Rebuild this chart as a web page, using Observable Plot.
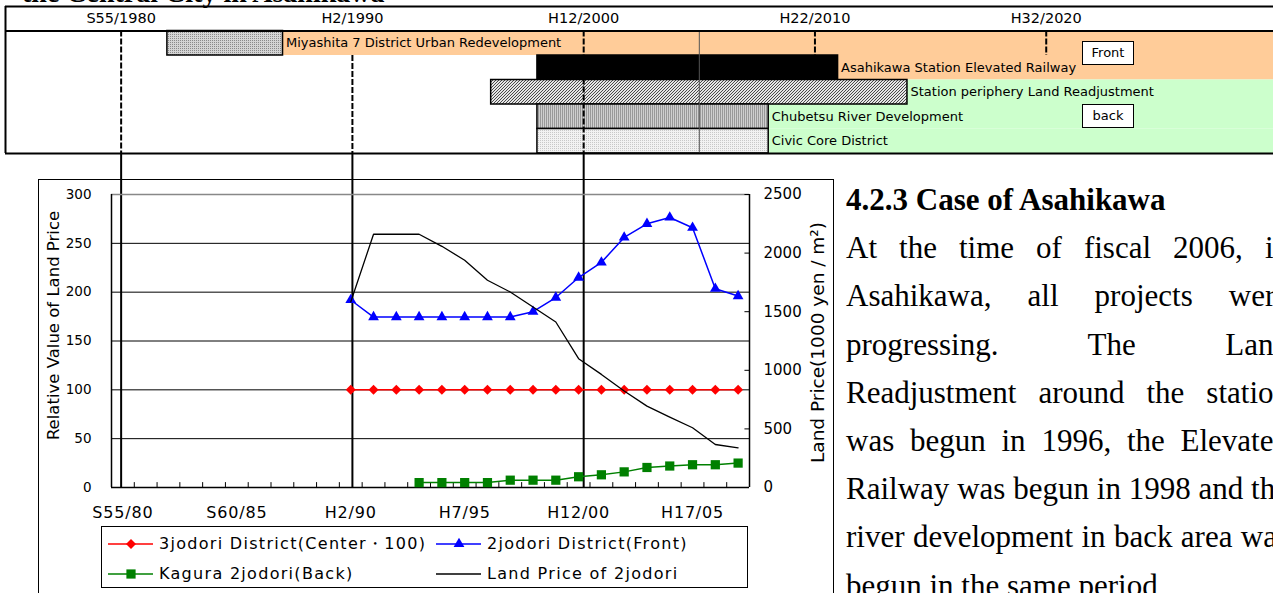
<!DOCTYPE html>
<html><head><meta charset="utf-8">
<script src="https://cdn.jsdelivr.net/npm/d3@7"></script>
<script src="https://cdn.jsdelivr.net/npm/@observablehq/plot@0.6"></script>
<style>
html,body{margin:0;padding:0;background:#fff;overflow:hidden;width:1273px;height:593px;}
#page{position:relative;width:1273px;height:593px;overflow:hidden;background:#fff;}
.abs{position:absolute;}
#title{left:22px;top:-21.5px;font:bold 28px "Liberation Serif",serif;line-height:28px;white-space:nowrap;z-index:5;}
#timeline{left:0;top:0;z-index:0;}
#chartbox{left:38px;top:179px;width:796px;height:440px;border:1px solid #000;box-sizing:border-box;z-index:1;}
#chart{left:38px;top:179px;z-index:2;}
#legend{left:101px;top:526px;width:647px;height:62px;border:1px solid #000;box-sizing:border-box;background:#fff;z-index:3;font:16px "DejaVu Sans",sans-serif;letter-spacing:1.3px;}
.litem{position:absolute;height:20px;white-space:nowrap;}
.litem svg{position:absolute;left:0;top:2px;}
.litem span{position:absolute;left:51px;top:0;line-height:20px;}
.tag{border:1px solid #000;background:#fff;font:13px "DejaVu Sans",sans-serif;text-align:center;box-sizing:border-box;z-index:4;}
#body{left:846px;top:176px;width:443px;font:31px "Liberation Serif",serif;line-height:48.2px;z-index:5;}
#body div{white-space:nowrap;}
#body .j{text-align:justify;text-align-last:justify;}
#body .h{font-weight:bold;}
</style></head>
<body><div id="page">
<svg width="0" height="0" style="position:absolute">
<defs>
<pattern id="pDots" width="2" height="2" patternUnits="userSpaceOnUse">
 <rect width="2" height="2" fill="#d4d4d4"/><rect width="1" height="1" fill="#8a8a8a"/>
</pattern>
<pattern id="pHatch" width="3" height="3" patternUnits="userSpaceOnUse">
 <rect width="3" height="3" fill="#e6e6e6"/><path d="M-1,1 L1,-1 M0,3 L3,0 M2,4 L4,2" stroke="#4a4a4a" stroke-width="1"/>
</pattern>
<pattern id="pVert" width="2" height="2" patternUnits="userSpaceOnUse">
 <rect width="2" height="2" fill="#cfcfcf"/><rect width="1" height="2" fill="#999"/>
</pattern>
<pattern id="pLight" width="2" height="2" patternUnits="userSpaceOnUse">
 <rect width="2" height="2" fill="#f2f2f2"/><rect width="1" height="1" fill="#c8c8c8"/>
</pattern>
</defs></svg>
<div id="title" class="abs">the Central City in Asahikawa</div>
<div id="timeline" class="abs"></div>
<div id="chartbox" class="abs"></div>
<div id="chart" class="abs"></div>
<div id="legend" class="abs"></div>
<div class="abs tag" style="left:1082px;top:41px;width:52px;height:24px;line-height:22px;">Front</div>
<div class="abs tag" style="left:1082px;top:104px;width:52px;height:24px;line-height:22px;">back</div>
<div id="body" class="abs"></div>
</div>
<script>
// ---------------- Data ----------------
// Timeline of projects
const projects = ["Miyashita 7 District Urban Redevelopment", "Asahikawa Station Elevated Railway", "Station periphery Land Readjustment", "Chubetsu River Development", "Civic Core District"];
const projStart = [1982, 1998, 1996, 1998, 1998];
const projEnd = [1987, 2011, 2014, 2008, 2008];
const projArea = ["front", "front", "back", "back", "back"];
const headerYears = [1980, 1990, 2000, 2010, 2020];
const headerLabels = ["S55/1980", "H2/1990", "H12/2000", "H22/2010", "H32/2020"];

// Chart categories
const chartYears = [1980,1981,1982,1983,1984,1985,1986,1987,1988,1989,1990,1991,1992,1993,1994,1995,1996,1997,1998,1999,2000,2001,2002,2003,2004,2005,2006,2007];
const xLabelYears = [1980, 1985, 1990, 1995, 2000, 2005];
const xLabelText = ["S55/80", "S60/85", "H2/90", "H7/95", "H12/00", "H17/05"];
const leftTicks = [0, 50, 100, 150, 200, 250, 300];
const rightTicks = [0, 500, 1000, 1500, 2000, 2500];

// Series
const seriesYears = [1990,1991,1992,1993,1994,1995,1996,1997,1998,1999,2000,2001,2002,2003,2004,2005,2006,2007];
const center3jodori = [100,100,100,100,100,100,100,100,100,100,100,100,100,100,100,100,100,100];
const front2jodori = [192,174.5,174.5,174.5,174.5,174.5,174.5,174.5,180,194.5,215,230.5,256,270,276.5,266,203.5,196];
const landPrice2jodori = [1583,2161,2161,2161,2058,1939,1768,1668,1540,1412,1099,965,823,694,600,510,367,339];
const kaguraYears = [1993,1994,1995,1996,1997,1998,1999,2000,2001,2002,2003,2004,2005,2006,2007];
const kaguraBack = [5,5,5,5,7.5,7.5,7.5,11,13,16,20.5,22,23.3,23.3,25];

const legendLabels = ["3jodori District(Center・100)", "2jodori District(Front)", "Kagura 2jodori(Back)", "Land Price of 2jodori"];

const bodyHeading = "4.2.3 Case of Asahikawa";
const bodyLines = ["At the time of fiscal 2006, in", "Asahikawa, all projects were", "progressing. The Land", "Readjustment around the station", "was begun in 1996, the Elevated", "Railway was begun in 1998 and the", "river development in back area was"];
const bodyLast = "begun in the same period";

// ---------------- Styles ----------------
const areaColor = {front: "#FFCC99", back: "#CCFFCC"};
const barFill = ["url(#pDots)", "#000000", "url(#pHatch)", "url(#pVert)", "url(#pLight)"];
const FONT = "DejaVu Sans";

// ---------------- Timeline ----------------
const rows = projects.map((name, i) => ({name, row: i, start: projStart[i], end: projEnd[i], area: projArea[i], fill: barFill[i]}));
const yRowDomain = [-1, 5], yRowRange = [6, 153];
const yT = d3.scaleLinear(yRowDomain, yRowRange);
const chartAxisPageY = 487; // where the connectors meet the chart's x axis
const lastYear = 2030;

const timeline = Plot.plot({
  width: 1273, height: 490,
  marginLeft: 5, marginRight: 0, marginTop: 0, marginBottom: 0,
  style: {background: "transparent", fontFamily: FONT, color: "#000"},
  x: {domain: [1975, lastYear], range: [5, 1277], axis: null},
  y: {domain: yRowDomain, range: yRowRange, axis: null},
  color: {type: "identity"},
  marks: [
    Plot.rect(rows, {x1: "end", x2: lastYear, y1: "row", y2: d => d.row + 1, fill: d => areaColor[d.area]}),
    Plot.rect(rows, {x1: "start", x2: "end", y1: "row", y2: d => d.row + 1, fill: "fill", stroke: "#000", strokeWidth: 1.5}),
    Plot.ruleX([2005], {y1: 0, y2: 5, stroke: "#555", strokeWidth: 1}),
    Plot.ruleX([1980, 2000], {y1: 0, y2: 5, stroke: "#000", strokeWidth: 2, strokeDasharray: "6,2"}),
    Plot.ruleX([1990], {y1: 1, y2: 5, stroke: "#000", strokeWidth: 2, strokeDasharray: "6,2"}),
    Plot.ruleX([2010, 2020], {y1: 0, y2: 1, stroke: "#000", strokeWidth: 2, strokeDasharray: "6,2"}),
    Plot.ruleX([1980, 1990, 2000], {y1: 5, y2: yT.invert(chartAxisPageY), stroke: "#000", strokeWidth: 2}),
    Plot.text(rows, {x: "end", y: d => d.row + 0.5, text: "name", textAnchor: "start", dx: 3, fontSize: 13, fill: "#000", ariaLabel: "project label"}),
    Plot.text(headerYears, {x: d => d, y: -0.5, text: (d, i) => headerLabels[i], fontSize: 14.5, fill: "#000", ariaLabel: "header label"}),
    Plot.ruleY([-1, 0, 5], {stroke: "#000", strokeWidth: 2}),
    Plot.ruleX([1975], {y1: -1, y2: 5, stroke: "#000", strokeWidth: 2})
  ]
});
document.getElementById("timeline").append(timeline);

// ---------------- Chart ----------------
const toLeft = v => v * 300 / 2500;
const dataA = seriesYears.map((year, i) => ({year, center: center3jodori[i], front: front2jodori[i], price: landPrice2jodori[i]}));
const dataK = kaguraYears.map((year, i) => ({year, back: kaguraBack[i]}));
const bounds = chartYears.slice(1).map(y => y - 0.5);
const xMin = chartYears[0] - 0.5, xMax = chartYears[chartYears.length - 1] + 0.5;

const chart = Plot.plot({
  width: 796, height: 414,
  marginLeft: 73, marginRight: 85, marginTop: 15, marginBottom: 106,
  style: {background: "transparent", fontFamily: FONT, color: "#000"},
  x: {domain: [xMin, xMax], axis: null},
  y: {domain: [0, 300], axis: null},
  marks: [
    Plot.ruleY(leftTicks.slice(1, -1), {stroke: "#000", strokeWidth: 1}),
    Plot.ruleY([300], {stroke: "#888", strokeWidth: 1.5}),
    Plot.ruleX(bounds, {y1: 0, y2: 5, stroke: "#000", strokeWidth: 1}),
    Plot.ruleY(rightTicks.map(toLeft), {x1: xMax - 0.2, x2: xMax, stroke: "#000", strokeWidth: 1}),
    Plot.ruleX([xMin, xMax], {stroke: "#000", strokeWidth: 1.5}),
    Plot.ruleY([0], {stroke: "#000", strokeWidth: 1.5}),
    Plot.axisY(leftTicks, {anchor: "left", tickSize: 0, tickPadding: 20, fontSize: 13.5, label: null}),
    Plot.axisY(rightTicks, {anchor: "right", y: toLeft, tickFormat: d => String(d), tickSize: 0, tickPadding: 14, fontSize: 15, label: null}),
    Plot.axisX(xLabelYears, {anchor: "bottom", tickFormat: d => xLabelText[xLabelYears.indexOf(d)], tickSize: 0, tickPadding: 19, fontSize: 16, label: null}),
    Plot.text(["Relative Value of Land Price"], {frameAnchor: "left", textAnchor: "middle", rotate: -90, dx: -58, dy: -15.5, fontSize: 16.5, fill: "#000"}),
    Plot.text(["Land Price(1000 yen / m²)"], {frameAnchor: "right", textAnchor: "middle", rotate: -90, dx: 69, dy: 1.5, fontSize: 18.5, fill: "#000"}),
    Plot.line(dataA, {x: "year", y: "center", stroke: "#FF0000", strokeWidth: 1.5}),
    Plot.dot(dataA, {x: "year", y: "center", symbol: "diamond2", r: 4.5, fill: "#FF0000", stroke: "none"}),
    Plot.line(dataA, {x: "year", y: "front", stroke: "#0000FF", strokeWidth: 1.5}),
    Plot.dot(dataA, {x: "year", y: "front", symbol: "triangle", r: 4, fill: "#0000FF", stroke: "none"}),
    Plot.line(dataK, {x: "year", y: "back", stroke: "#008000", strokeWidth: 1.5}),
    Plot.dot(dataK, {x: "year", y: "back", symbol: "square", r: 5.2, fill: "#008000", stroke: "none"}),
    Plot.line(dataA, {x: "year", y: d => toLeft(d.price), stroke: "#000", strokeWidth: 1.3})
  ]
});
document.getElementById("chart").append(chart);
d3.select(chart).selectAll('g[aria-label="x-axis tick label"] text').attr("letter-spacing", "0.8px");
d3.select(timeline).selectAll('g[aria-label="header label"] text').attr("letter-spacing", "0.2px");

// ---------------- Legend ----------------
const legendColors = ["#FF0000", "#0000FF", "#008000", "#000000"];
const legendSymbols = [d3.symbolDiamond2, d3.symbolTriangle, d3.symbolSquare, null];
const legendSizes = [Math.PI * 4.5 * 4.5, Math.PI * 16, Math.PI * 5.2 * 5.2, 0];
const legend = d3.select("#legend");
legendLabels.forEach((label, i) => {
  const col = i % 2, row = Math.floor(i / 2);
  const item = legend.append("div").attr("class", "litem")
    .style("left", (6 + col * 328) + "px").style("top", (7 + row * 30) + "px");
  const svg = item.append("svg").attr("width", 46).attr("height", 16);
  svg.append("line").attr("x1", 0).attr("x2", 45).attr("y1", 8).attr("y2", 8)
    .attr("stroke", legendColors[i]).attr("stroke-width", 1.5);
  if (legendSymbols[i]) svg.append("path").attr("transform", "translate(23,8)")
    .attr("d", d3.symbol(legendSymbols[i], legendSizes[i])()).attr("fill", legendColors[i]);
  item.append("span").text(label);
});

// ---------------- Body text ----------------
const body = d3.select("#body");
body.append("div").attr("class", "h").text(bodyHeading);
bodyLines.forEach(t => body.append("div").attr("class", "j").text(t));
body.append("div").text(bodyLast);
</script>
</body></html>
